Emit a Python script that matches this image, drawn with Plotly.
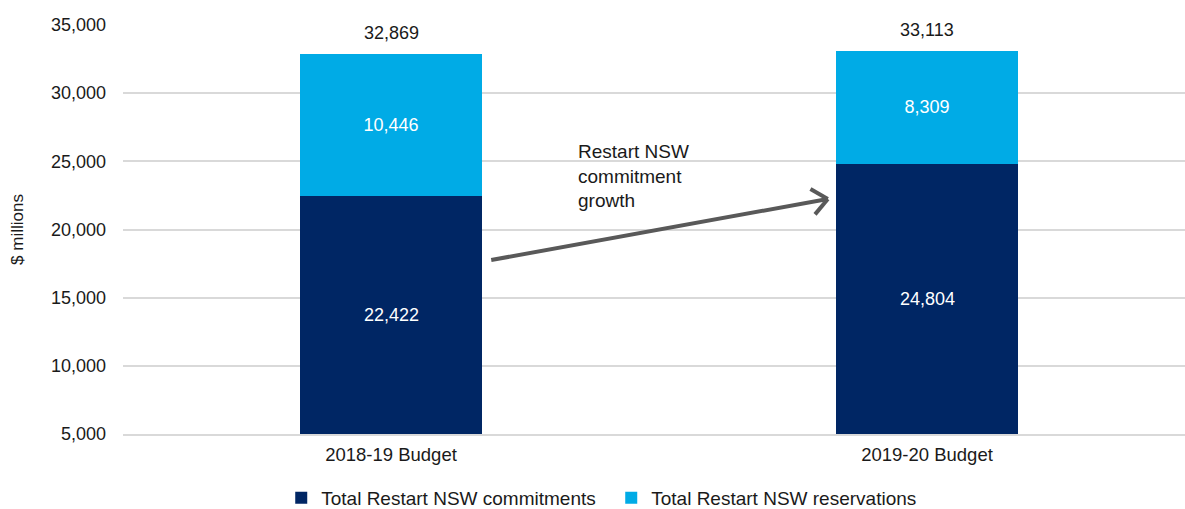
import plotly.graph_objects as go

categories = ["2018-19 Budget", "2019-20 Budget"]
commitments = [22422, 24804]
reservations = [10446, 8309]
totals = [32869, 33113]
series_names = ["Total Restart NSW commitments", "Total Restart NSW reservations"]
y_ticks = [5000, 10000, 15000, 20000, 25000, 30000, 35000]
y_range = [5000, 35000]

DARK = "#002664"
LIGHT = "#00ABE6"
FONT = "Liberation Sans, Arial, sans-serif"
TXT = "#1a1a1a"

fig = go.Figure()
fig.add_trace(go.Bar(
    x=categories, y=commitments, name=series_names[0], marker_color=DARK,
    width=0.34, marker_line_width=0, hoverinfo="x+y",
))
fig.add_trace(go.Bar(
    x=categories, y=reservations, name=series_names[1], marker_color=LIGHT,
    width=0.34, text=[f"{v:,}" for v in reservations], textposition="inside",
    insidetextanchor="middle", textfont=dict(color="white", size=18, family=FONT),
    marker_line_width=0,
))

# commitment labels centred on the visible part of the segment
for c, v in zip(categories, commitments):
    fig.add_annotation(x=c, y=(max(y_range[0], 0) + v) / 2, text=f"{v:,}", showarrow=False,
                       font=dict(size=18, color="white", family=FONT))

for c, t in zip(categories, totals):
    fig.add_annotation(x=c, y=t, text=f"{t:,}", showarrow=False, yanchor="bottom",
                       yshift=9, font=dict(size=18, color=TXT, family=FONT))

# growth arrow (annotation graphics)
x0, y0, x1, y1 = 0.187, 17763, 0.815, 22237
fig.add_shape(type="line", x0=x0, y0=y0, x1=x1, y1=y1, xref="x", yref="y",
              line=dict(color="#595959", width=4))
px_x = 536.0
px_y = 409.0 / 30000.0
def to_data(dx_px, dy_px):
    return dx_px / px_x, -dy_px / px_y
for dxp, dyp in [(-17.4, -9.9), (-12.8, 15.4)]:
    ddx, ddy = to_data(dxp, dyp)
    fig.add_shape(type="line", x0=x1, y0=y1, x1=x1 + ddx, y1=y1 + ddy, xref="x", yref="y",
                  line=dict(color="#595959", width=4))

fig.add_annotation(x=0.345, y=26650, xref="x", yref="y", text="Restart NSW<br>commitment<br>growth",
                   showarrow=False, xanchor="left", yanchor="top", align="left",
                   font=dict(size=19, color=TXT, family=FONT))

fig.update_layout(
    barmode="stack",
    width=1185, height=509,
    margin=dict(l=123, r=0, t=25, b=75),
    paper_bgcolor="white", plot_bgcolor="white",
    font=dict(family=FONT, size=18, color=TXT),
    showlegend=True,
    legend=dict(orientation="h", x=0.149, xanchor="left", xref="paper",
                y=1 - 498 / 509, yanchor="middle", yref="container",
                font=dict(size=19, color=TXT, family=FONT), entrywidth=285,
                traceorder="normal", itemwidth=30),
    xaxis=dict(range=[-0.5, -0.5 + 1062 / 536], showgrid=False, showline=True,
               linecolor="#D9D9D9", linewidth=2, ticks="", tickfont=dict(size=18.5),
               ticklabelstandoff=3, fixedrange=True, automargin=False),
    yaxis=dict(range=y_range, tickvals=y_ticks, tickformat=",", showgrid=True,
               gridcolor="#D9D9D9", gridwidth=1.5, zeroline=False, showline=False,
               ticks="", ticklabelstandoff=16, tickfont=dict(size=18), automargin=False,
               title=dict(text="$ millions", standoff=22, font=dict(size=17))),
)

fig.write_html(
    "out.html",
    config={"displayModeBar": False},
    post_script="document.body.style.margin='0';document.body.style.overflow='hidden';",
)
